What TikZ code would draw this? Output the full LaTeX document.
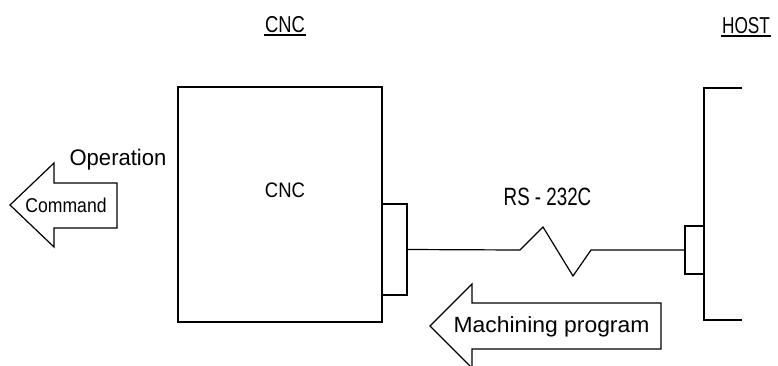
\documentclass[tikz,border=0pt]{standalone}
\usepackage{fontspec}
\setmainfont{Liberation Sans}
\usepackage{graphicx}
\newcommand{\txt}[3]{\fontsize{#1}{#1}\selectfont\scalebox{#2}[1]{#3}}
\begin{document}
\begin{tikzpicture}[x=1pt,y=-1pt,line width=1.2pt,
  lbl/.style={inner sep=0pt,anchor=base},
  boxshape/.style={draw,rectangle,inner sep=0pt,line width=1.2pt},
  ulined/.style={line width=2pt}]
\useasboundingbox (0,0) rectangle (778,365);
\clip (0,0) rectangle (778,365);
% labels
\node[lbl] (cnclabel) at (285,32) {\txt{23}{0.8}{CNC}};
\node[lbl] (hostlabel) at (746,33) {\txt{23}{0.75}{HOST}};
\draw[ulined] ([yshift=-2.5pt]cnclabel.base west) -- ([yshift=-2.5pt]cnclabel.base east);
\draw[ulined] ([yshift=-2.5pt]hostlabel.base west) -- ([yshift=-2.5pt]hostlabel.base east);
% CNC box
\node[boxshape,minimum width=204pt,minimum height=235pt] (cncbox) at (280,204.5) {};
\node[lbl] (cnctext) at (285,197) {\txt{21}{0.88}{CNC}};
\node[boxshape,minimum width=25pt,minimum height=91pt] (cport) at (394.5,249.5) {};
% host
\node[boxshape,minimum width=19pt,minimum height=48pt] (hport) at (694.5,250) {};
\coordinate (ht1) at (742,88);
\coordinate (hb1) at (704,88);
\coordinate (hb2) at (704,320);
\coordinate (ht2) at (742,320);
\draw (ht1) -- (hb1) -- (hb2) -- (ht2);
% cable
\coordinate (z1) at (520,250);
\coordinate (z2) at (543,227);
\coordinate (z3) at (573,276);
\coordinate (z4) at (591,250);
\draw (cport.east) -- (z1) -- (z2) -- (z3) -- (z4) -- (hport.west);
\node[lbl] (rs) at (547.5,205) {\txt{25}{0.75}{RS - 232C}};
% command arrow
\draw (10,205) -- (54,163) -- (54,183) -- (117,183) -- (117,228) -- (54,228) -- (54,247) -- cycle;
\node[lbl] (cmd) at (66,212) {\txt{20}{0.88}{Command}};
\node[lbl] (op) at (118,165) {\txt{22.5}{0.98}{Operation}};
% machining arrow
\draw (430,326) -- (472,284) -- (472,303) -- (661,303) -- (661,349) -- (472,349) -- (472,368) -- cycle;
\node[lbl] (mp) at (551.5,332) {\txt{22}{1.04}{Machining program}};
\end{tikzpicture}
\end{document}
